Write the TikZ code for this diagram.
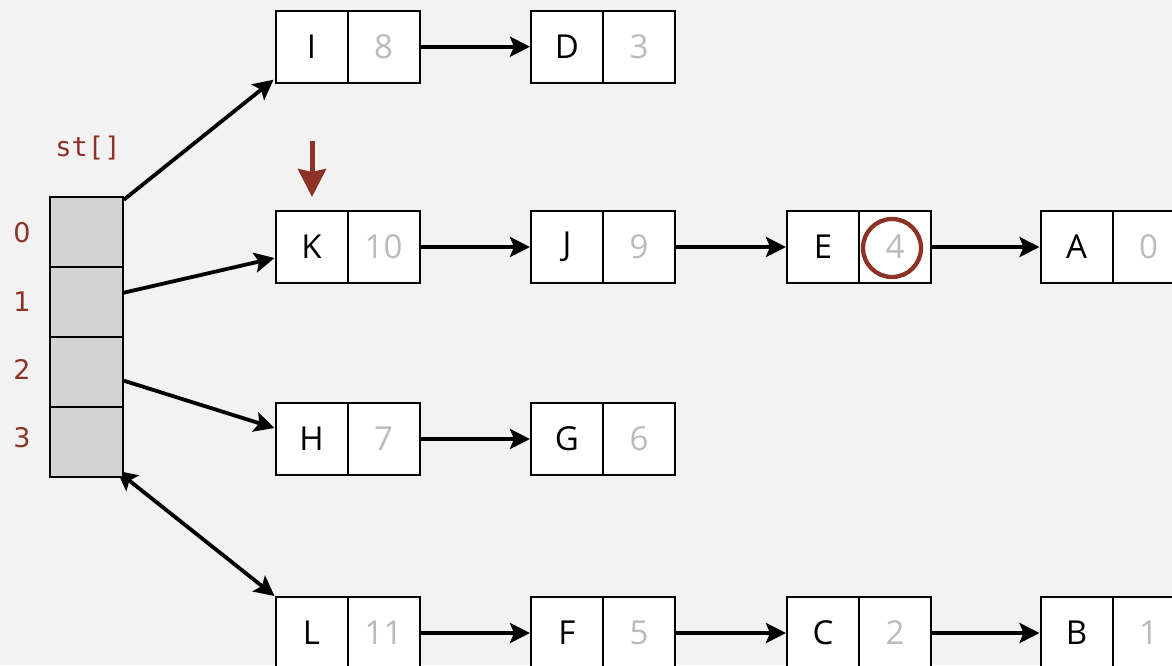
\documentclass[tikz,border=0pt]{standalone}
\usepackage{fontspec}
\newfontfamily\nodefont{Open Sans}
\newfontfamily\idxfont{DejaVu Sans}
\newfontfamily\stmono{DejaVu Sans Mono}
\usetikzlibrary{arrows.meta,calc,backgrounds}
\definecolor{bg}{HTML}{F2F2F2}
\definecolor{darkred}{HTML}{8C3226}
\definecolor{valgray}{HTML}{BBBBBB}
\definecolor{cellgray}{HTML}{D3D3D3}
\begin{document}
\begin{tikzpicture}[x=1pt,y=-1pt,
 cell/.style={draw=black,line width=2pt,fill=white,minimum width=72pt,minimum height=72pt,inner sep=0pt,font=\nodefont\fontsize{33}{33}\selectfont},
 keycell/.style={cell,text=black},
 valcell/.style={cell,text=valgray},
 slot/.style={draw=black,line width=2pt,fill=cellgray,minimum width=72.7pt,minimum height=70pt,inner sep=0pt},
 idx/.style={text=darkred,font=\idxfont\fontsize{27}{27}\selectfont},
 tip/.tip={Stealth[length=20pt,width=20pt,inset=4pt]},
 link/.style={line width=3.8pt,-tip},
]
\path[use as bounding box] (0,0) rectangle (1172,665);
% array slots
\node[slot] (a0) at (86.5,231.7) {};
\node[slot] (a1) at (86.5,301.7) {};
\node[slot] (a2) at (86.5,371.7) {};
\node[slot] (a3) at (86.5,441.7) {};
\node[idx] (i0) at (22,233) {0};
\node[idx] (i1) at (22,302) {1};
\node[idx] (i2) at (22,369) {2};
\node[idx] (i3) at (22,438) {3};
\node[text=darkred,font=\stmono\fontsize{27}{27}\selectfont] (stlabel) at (88,148) {st[]};
% row I
\node[keycell] (kI) at (311.5,46.7) {I};
\node[valcell] (vI) at (383.5,46.7) {8};
\node[keycell] (kD) at (567,46.7) {D};
\node[valcell] (vD) at (639,46.7) {3};
% row K
\node[keycell] (kK) at (311.5,247) {K};
\node[valcell] (vK) at (383.5,247) {10};
\node[keycell] (kJ) at (567,247) {J};
\node[valcell] (vJ) at (639,247) {9};
\node[keycell] (kE) at (823,247) {E};
\node[valcell] (vE) at (895,247) {4};
\node[keycell] (kA) at (1076.5,247) {A};
\node[valcell] (vA) at (1148.5,247) {0};
% row H
\node[keycell] (kH) at (311.5,439) {H};
\node[valcell] (vH) at (383.5,439) {7};
\node[keycell] (kG) at (567,439) {G};
\node[valcell] (vG) at (639,439) {6};
% row L
\node[keycell] (kL) at (311.5,633) {L};
\node[valcell] (vL) at (383.5,633) {11};
\node[keycell] (kF) at (567,633) {F};
\node[valcell] (vF) at (639,633) {5};
\node[keycell] (kC) at (823,633) {C};
\node[valcell] (vC) at (895,633) {2};
\node[keycell] (kB) at (1076.5,633) {B};
\node[valcell] (vB) at (1148.5,633) {1};
% links between nodes
\draw[link] (vI) -- (kD);
\draw[link] (vK) -- (kJ);
\draw[link] (vJ) -- (kE);
\draw[link] (vE) -- (kA);
\draw[link] (vH) -- (kG);
\draw[link] (vL) -- (kF);
\draw[link] (vF) -- (kC);
\draw[link] (vC) -- (kB);
% links from array
\draw[link] ($(a0.north east)+(0,4)$) -- ($(kI.south west)+(-1,-4)$);
\draw[link] ($(a1.east)+(0,-9)$) -- ($(kK.west)+(0,11)$);
\draw[link] ($(a2.east)+(0,9)$) -- ($(kH.west)+(0,-11)$);
\begin{pgfonlayer}{background}
\fill[bg] (0,0) rectangle (1172,665);
\draw[line width=3.8pt,tip-tip] ($(a3.south east)+(-7,-7)$) -- (kL.north west);
\end{pgfonlayer}
% highlight
\coordinate (redtop) at (312,141);
\draw[line width=5pt,darkred,-{Stealth[length=28pt,width=28pt,inset=3pt]}] (redtop) -- ($(kK.north)+(0.5,-13)$);
\node[circle,draw=darkred,line width=4.3pt,minimum size=58pt,inner sep=0pt] (ring) at ($(vE)+(-3,1)$) {};
\end{tikzpicture}
\end{document}
